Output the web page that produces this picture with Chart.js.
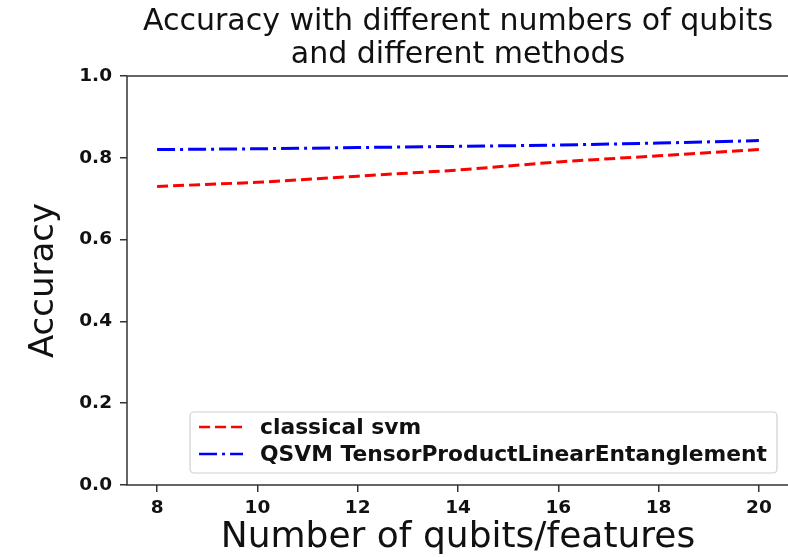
<!DOCTYPE html>
<html>
<head>
<meta charset="utf-8">
<script src="https://cdn.jsdelivr.net/npm/chart.js@4.4.1/dist/chart.umd.min.js"></script>
<style>
  html, body { margin: 0; padding: 0; background: #fff; overflow: hidden; }
  #wrap { width: 792px; height: 557px; }
</style>
</head>
<body>
<div id="wrap"><canvas id="chart" width="792" height="557"></canvas></div>
<script>
// values
const qubits = [8, 10, 12, 14, 16, 18, 20];
const classicalSvm = [0.73, 0.74, 0.755, 0.77, 0.79, 0.805, 0.82];
const qsvmTensor = [0.82, 0.822, 0.825, 0.828, 0.831, 0.836, 0.842];
const xTicks = [8, 10, 12, 14, 16, 18, 20];
const yTicks = [0.0, 0.2, 0.4, 0.6, 0.8, 1.0];
const seriesNames = ['classical svm', 'QSVM TensorProductLinearEntanglement'];

const toPoints = ys => qubits.map((q, i) => ({ x: q, y: ys[i] }));

// axes box (matplotlib style spines)
const frame = {
    id: 'frame',
    afterDraw(chart) {
        const { ctx, chartArea: a } = chart;
        ctx.save();
        ctx.strokeStyle = '#333';
        ctx.lineWidth = 1.5;
        ctx.strokeRect(a.left, a.top, a.right - a.left, a.bottom - a.top);
        ctx.restore();
    }
};

// legend in the lower right corner of the plot
const boxLegend = {
    id: 'boxLegend',
    afterDatasetsDraw(chart) {
        const { ctx, chartArea: a } = chart;
        const sets = chart.data.datasets;
        ctx.save();
        ctx.font = 'bold 21.8px "DejaVu Sans"';
        const textW = Math.max(...sets.map(d => ctx.measureText(d.label).width));
        const w = 70 + textW + 10;
        const h = 61;
        const x = a.right - 12 - w;
        const y = a.bottom - 12 - h;

        ctx.beginPath();
        ctx.roundRect(x, y, w, h, 4);
        ctx.fillStyle = 'rgba(255,255,255,0.85)';
        ctx.fill();
        ctx.strokeStyle = '#d0d0d0';
        ctx.lineWidth = 1.2;
        ctx.stroke();

        sets.forEach((d, i) => {
            const cy = y + 15 + i * 27;
            ctx.beginPath();
            ctx.setLineDash(d.borderDash);
            ctx.strokeStyle = d.borderColor;
            ctx.lineWidth = 2.6;
            ctx.moveTo(x + 9, cy);
            ctx.lineTo(x + 53, cy);
            ctx.stroke();
            ctx.setLineDash([]);
            ctx.fillStyle = '#111';
            ctx.textBaseline = 'middle';
            ctx.fillText(d.label, x + 70, cy + 1);
        });
        ctx.restore();
    }
};

new Chart(document.getElementById('chart'), {
    type: 'line',
    data: {
        datasets: [
            {
                label: seriesNames[0],
                data: toPoints(classicalSvm),
                borderColor: '#ff0000',
                borderWidth: 3,
                borderDash: [11, 5],
                pointRadius: 0,
                fill: false
            },
            {
                label: seriesNames[1],
                data: toPoints(qsvmTensor),
                borderColor: '#0000ff',
                borderWidth: 3,
                borderDash: [18, 5, 3, 5],
                pointRadius: 0,
                fill: false
            }
        ]
    },
    options: {
        responsive: false,
        animation: false,
        layout: { padding: { right: 3 } },
        plugins: {
            legend: { display: false },
            tooltip: { enabled: false },
            title: {
                display: true,
                fullSize: false,
                text: ['Accuracy with different numbers of qubits', 'and different methods'],
                color: '#111',
                font: { family: 'DejaVu Sans', size: 30, weight: 'normal', lineHeight: 1.1 },
                padding: { top: 5.5, bottom: 4.5 }
            }
        },
        scales: {
            x: {
                type: 'linear',
                min: 7.4,
                max: 20.6,
                afterBuildTicks: s => { s.ticks = xTicks.map(v => ({ value: v })); },
                afterFit: s => { s.height = 72; },
                border: { display: false },
                grid: { drawOnChartArea: false, drawTicks: true, tickLength: 7, color: '#333', lineWidth: 1.5 },
                ticks: {
                    color: '#111',
                    padding: 5,
                    maxRotation: 0,
                    font: { family: 'DejaVu Sans', size: 18.5, weight: 'bold' }
                },
                title: {
                    display: true,
                    text: 'Number of qubits/features',
                    color: '#111',
                    font: { family: 'DejaVu Sans', size: 36, lineHeight: 1.05 },
                    padding: { top: 0, bottom: 0 }
                }
            },
            y: {
                min: 0,
                max: 1,
                afterBuildTicks: s => { s.ticks = yTicks.map(v => ({ value: v })); },
                afterFit: s => { s.width = 127; },
                border: { display: false },
                grid: { drawOnChartArea: false, drawTicks: true, tickLength: 7, color: '#333', lineWidth: 1.5 },
                ticks: {
                    color: '#111',
                    padding: 8,
                    callback: v => v.toFixed(1),
                    font: { family: 'DejaVu Sans', size: 18.5, weight: 'bold' }
                },
                title: {
                    display: true,
                    text: 'Accuracy',
                    color: '#111',
                    font: { family: 'DejaVu Sans', size: 34, lineHeight: 1.2 },
                    padding: { top: 24, bottom: 0 }
                }
            }
        }
    },
    plugins: [frame, boxLegend]
});
</script>
</body>
</html>
